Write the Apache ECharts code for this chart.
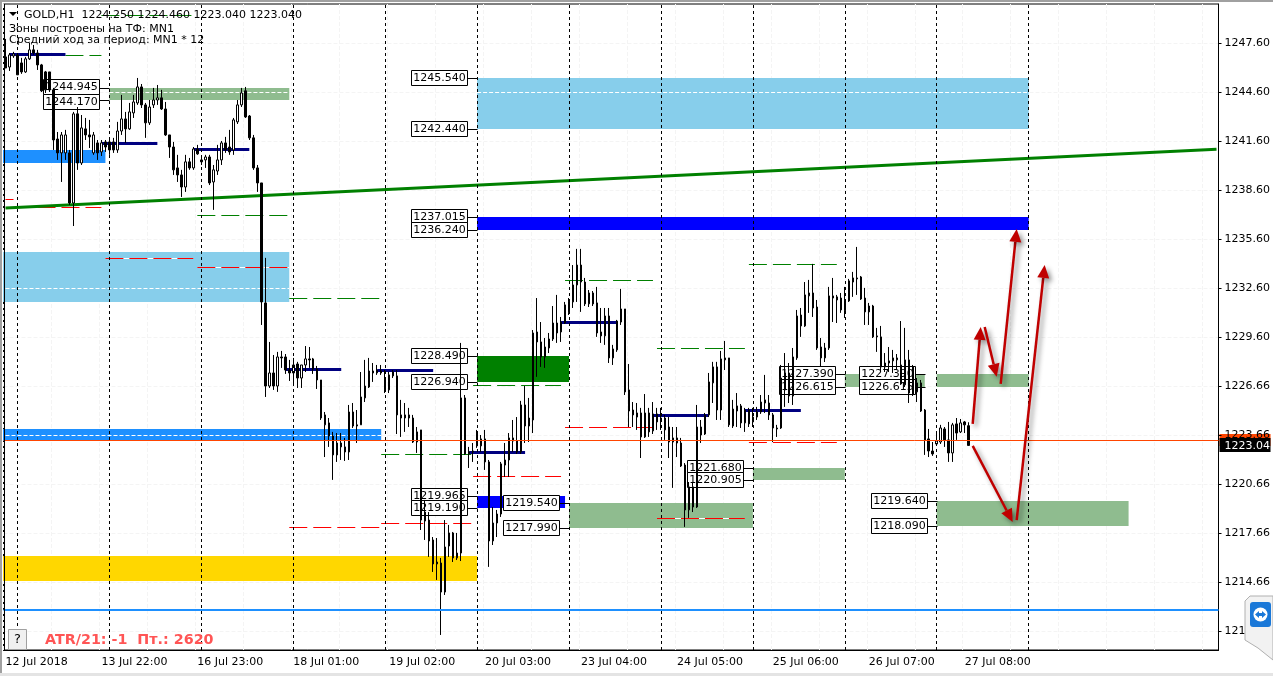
<!DOCTYPE html>
<html>
<head>
<meta charset="utf-8">
<title>GOLD,H1</title>
<style>
  html, body { margin: 0; padding: 0; background: #fff; }
  #chart { width: 1273px; height: 676px; }
</style>
</head>
<body>
<div id="chart"></div>
<script src="https://cdn.jsdelivr.net/npm/echarts@6/dist/echarts.min.js"></script>
<script>
// hourly bars, [open, close, low, high]
const ohlc = [
  [1246.84,1246.16,1246.16,1247.94],[1246.22,1246.96,1245.98,1247.08],[1246.90,1247.02,1246.78,1247.15],[1246.96,1245.74,1245.74,1247.02],
  [1246.47,1245.92,1245.80,1246.78],[1245.92,1246.72,1245.86,1246.84],[1246.72,1247.27,1246.65,1247.70],[1247.27,1247.08,1246.96,1247.57],
  [1247.08,1246.35,1246.04,1247.27],[1246.35,1244.76,1244.69,1246.41],[1245.92,1244.82,1244.63,1245.98],[1245.92,1244.82,1244.69,1245.92],
  [1244.82,1241.75,1241.14,1244.94],[1241.81,1240.96,1240.53,1242.24],[1240.96,1242.06,1239.18,1242.24],[1240.96,1242.06,1240.53,1242.37],
  [1240.96,1237.89,1237.77,1241.14],[1237.89,1243.35,1236.48,1243.47],[1243.35,1240.34,1239.92,1243.77],[1240.34,1242.49,1240.22,1243.28],
  [1242.43,1242.06,1241.75,1243.10],[1242.06,1241.94,1241.26,1242.98],[1240.96,1242.06,1240.84,1242.24],[1241.57,1240.96,1240.53,1241.75],
  [1241.02,1241.57,1240.77,1241.75],[1241.63,1241.32,1241.02,1241.75],[1241.63,1241.14,1240.84,1241.88],[1241.63,1241.14,1240.96,1241.88],
  [1241.14,1242.30,1240.96,1242.86],[1242.30,1243.04,1242.06,1244.51],[1243.04,1242.43,1241.57,1243.47],[1242.43,1243.47,1242.37,1244.02],
  [1243.41,1244.08,1243.10,1244.51],[1244.02,1245.00,1243.90,1245.55],[1245.00,1243.90,1243.71,1245.18],[1243.90,1242.80,1241.88,1244.02],
  [1242.80,1243.77,1242.67,1244.20],[1243.90,1244.20,1243.71,1244.94],[1244.20,1244.33,1243.90,1245.12],[1244.33,1243.65,1243.59,1244.82],
  [1243.65,1242.06,1242.00,1244.08],[1242.06,1241.32,1240.65,1242.06],[1241.32,1239.92,1239.61,1241.63],[1240.04,1239.61,1239.18,1240.84],
  [1239.61,1238.87,1238.26,1239.92],[1238.87,1240.41,1238.57,1240.84],[1240.41,1240.04,1239.92,1240.65],[1240.04,1241.20,1239.92,1241.32],
  [1241.20,1240.90,1240.84,1241.45],[1240.53,1240.41,1240.22,1240.65],[1240.53,1240.71,1240.04,1240.84],[1240.71,1239.12,1238.99,1240.84],
  [1239.18,1239.92,1237.47,1240.22],[1239.85,1240.53,1239.61,1241.45],[1240.53,1241.57,1240.22,1241.69],[1241.57,1241.14,1240.96,1241.94],
  [1241.32,1241.02,1240.84,1242.37],[1241.14,1242.98,1240.84,1243.10],[1242.86,1243.90,1242.73,1244.20],[1243.90,1244.63,1243.77,1244.94],
  [1244.76,1243.16,1243.10,1245.00],[1243.22,1241.88,1241.75,1243.28],[1241.88,1240.04,1239.92,1242.06],[1240.04,1239.12,1238.57,1240.22],
  [1239.12,1231.83,1230.42,1239.12],[1231.77,1226.68,1226.01,1234.53],[1226.68,1227.48,1226.56,1229.38],[1227.48,1226.68,1226.44,1228.58],
  [1226.68,1228.46,1226.32,1228.77],[1228.46,1228.40,1227.79,1228.83],[1228.46,1227.66,1227.42,1228.64],[1227.66,1227.48,1226.99,1228.28],
  [1227.48,1227.97,1226.75,1228.40],[1228.03,1227.17,1226.56,1228.16],[1227.17,1227.97,1226.56,1227.97],[1227.97,1228.34,1227.54,1229.13],
  [1228.34,1228.28,1227.79,1229.07],[1228.34,1227.72,1227.42,1228.40],[1227.72,1227.05,1226.50,1227.91],[1227.05,1224.72,1224.60,1227.05],
  [1224.30,1224.91,1222.33,1225.09],[1224.42,1223.62,1222.95,1224.72],[1223.62,1222.46,1220.93,1223.87],[1223.19,1222.46,1222.03,1223.80],
  [1223.19,1222.95,1222.15,1223.80],[1222.95,1222.64,1222.09,1223.50],[1222.64,1225.09,1222.15,1225.52],[1225.09,1224.23,1224.11,1225.64],
  [1224.30,1224.23,1223.19,1225.21],[1224.30,1226.01,1224.30,1227.54],[1225.95,1226.68,1225.70,1228.28],[1226.62,1227.60,1226.56,1228.40],
  [1227.60,1227.48,1226.93,1228.09],[1227.48,1227.66,1227.36,1227.97],[1227.60,1227.48,1227.36,1227.97],[1227.11,1226.44,1226.25,1227.66],
  [1226.44,1227.36,1226.25,1227.54],[1227.54,1227.30,1227.17,1227.66],[1227.30,1224.91,1223.74,1227.66],[1224.91,1224.72,1223.56,1225.83],
  [1224.72,1224.91,1223.87,1225.64],[1224.91,1224.72,1224.17,1225.34],[1224.72,1223.25,1223.19,1224.91],[1223.25,1223.87,1222.58,1224.17],
  [1223.99,1218.47,1217.86,1223.99],[1218.96,1218.41,1217.25,1219.70],[1218.47,1217.19,1216.21,1218.96],[1217.25,1215.78,1215.29,1217.43],
  [1215.78,1215.90,1214.80,1217.37],[1215.84,1214.06,1211.43,1216.15],[1214.06,1216.82,1213.88,1218.47],[1216.88,1217.68,1216.21,1218.17],
  [1217.68,1216.15,1215.90,1217.74],[1216.15,1216.45,1216.02,1217.68],[1216.45,1225.95,1215.96,1229.32],[1225.95,1222.52,1222.46,1226.13],
  [1222.52,1222.64,1221.66,1222.95],[1222.70,1222.64,1222.03,1223.19],[1223.80,1223.01,1222.89,1223.99],[1223.01,1223.44,1222.64,1223.68],
  [1223.44,1222.03,1221.54,1223.99],[1222.03,1217.19,1215.60,1222.15],[1217.19,1218.29,1216.94,1219.27],[1218.29,1218.84,1217.43,1219.09],
  [1218.84,1221.91,1218.66,1222.03],[1221.84,1222.15,1221.11,1223.19],[1222.15,1223.50,1221.11,1223.80],[1223.50,1223.31,1222.64,1224.60],
  [1223.31,1222.64,1222.52,1224.78],[1222.64,1225.52,1222.52,1225.77],[1225.52,1224.23,1223.19,1226.68],[1224.23,1224.72,1223.25,1225.95],
  [1224.60,1229.93,1223.80,1230.11],[1229.99,1229.38,1227.24,1232.07],[1229.38,1228.46,1227.85,1230.60],[1228.46,1229.07,1227.79,1229.62],
  [1229.01,1229.56,1228.70,1229.93],[1229.56,1230.54,1229.44,1231.58],[1230.54,1229.93,1229.32,1232.26],[1229.99,1230.60,1229.38,1230.91],
  [1230.54,1231.65,1230.48,1231.83],[1231.16,1231.83,1231.03,1232.07],[1231.83,1232.87,1231.46,1234.09],[1232.87,1234.09,1231.83,1235.08],
  [1234.09,1233.05,1231.22,1235.08],[1233.05,1231.71,1231.58,1233.30],[1231.71,1232.38,1231.52,1232.56],[1232.38,1231.71,1231.58,1232.50],
  [1231.77,1229.93,1229.69,1232.75],[1229.99,1229.75,1229.32,1231.46],[1229.75,1230.97,1229.20,1231.46],[1230.97,1228.40,1228.09,1231.46],
  [1228.40,1228.95,1227.97,1229.20],[1228.89,1230.66,1228.77,1230.73],[1230.60,1231.40,1230.42,1232.63],[1231.40,1226.32,1226.13,1231.40],
  [1226.44,1225.15,1224.17,1228.03],[1225.21,1224.91,1224.17,1225.70],[1225.03,1224.78,1223.99,1225.64],[1225.03,1223.56,1222.27,1225.34],
  [1223.56,1225.03,1223.50,1226.19],[1225.03,1223.87,1223.56,1225.34],[1223.93,1224.97,1223.74,1225.70],[1224.97,1224.48,1223.99,1225.34],
  [1224.60,1224.72,1223.99,1225.34],[1223.99,1224.72,1223.38,1224.91],[1224.17,1223.25,1222.27,1224.78],[1223.25,1223.50,1220.44,1224.17],
  [1223.50,1223.19,1222.33,1224.17],[1223.19,1221.78,1221.72,1223.50],[1221.84,1219.09,1218.05,1221.96],[1219.09,1220.50,1218.60,1220.80],
  [1220.50,1219.27,1218.96,1220.74],[1219.27,1224.17,1219.21,1225.52],[1224.17,1223.68,1223.19,1224.60],[1223.74,1224.91,1223.68,1225.03],
  [1224.91,1226.93,1224.78,1227.48],[1226.87,1227.85,1225.64,1228.16],[1227.85,1225.21,1224.60,1228.16],[1225.21,1228.34,1224.60,1228.83],
  [1228.40,1228.28,1227.66,1229.44],[1228.40,1224.30,1224.17,1228.40],[1224.23,1225.27,1224.11,1225.83],[1225.15,1225.46,1224.17,1226.25],
  [1225.46,1224.42,1224.11,1225.58],[1224.42,1225.21,1223.87,1225.34],[1225.21,1224.36,1224.17,1225.34],[1224.48,1224.78,1224.17,1225.34],
  [1224.78,1225.09,1224.60,1225.40],[1225.09,1225.70,1224.97,1226.13],[1225.83,1225.64,1225.03,1227.36],[1225.64,1224.91,1224.60,1226.13],
  [1224.91,1224.11,1223.25,1225.03],[1224.11,1224.05,1223.56,1224.30],[1224.11,1227.17,1224.05,1227.97],[1226.44,1227.48,1225.40,1228.70],
  [1227.48,1226.07,1225.64,1228.09],[1226.07,1228.46,1225.52,1229.01],[1228.40,1230.97,1228.28,1231.34],[1231.03,1230.36,1229.69,1231.46],
  [1230.36,1232.26,1230.30,1233.05],[1232.20,1232.38,1231.16,1233.18],[1232.38,1231.46,1230.91,1234.16],[1231.52,1229.01,1228.89,1231.95],
  [1229.07,1228.40,1227.85,1229.62],[1228.40,1229.01,1228.15,1229.32],[1229.01,1232.20,1228.89,1232.75],[1232.20,1232.07,1230.60,1233.30],
  [1232.14,1231.95,1230.54,1232.26],[1232.07,1231.34,1231.16,1232.38],[1231.28,1231.89,1230.85,1232.75],[1231.89,1233.12,1231.83,1233.24],
  [1233.05,1233.30,1232.14,1233.67],[1233.30,1233.24,1232.26,1235.20],[1233.36,1232.01,1231.95,1233.42],[1232.07,1231.22,1230.42,1232.69],
  [1231.58,1231.22,1230.42,1231.77],[1231.58,1229.69,1229.62,1231.65],[1229.75,1229.69,1228.77,1230.24],[1229.69,1227.85,1227.54,1230.36],
  [1227.85,1228.09,1227.54,1228.70],[1228.09,1228.22,1227.54,1229.07],[1228.22,1228.40,1227.48,1228.89],[1228.28,1228.40,1227.66,1228.64],
  [1227.97,1226.81,1226.75,1230.66],[1226.75,1228.28,1226.62,1230.24],[1228.28,1226.25,1225.64,1228.89],[1227.85,1226.19,1226.07,1227.97],
  [1226.32,1226.87,1225.70,1227.17],[1226.87,1225.15,1225.09,1227.05],[1225.21,1223.38,1222.46,1225.27],[1223.44,1222.70,1222.33,1224.05],
  [1222.70,1222.52,1222.40,1223.25],[1223.13,1223.31,1223.01,1223.80],[1223.25,1224.11,1223.13,1224.30],[1224.05,1223.38,1222.95,1224.17],
  [1223.38,1222.58,1222.03,1224.48],[1222.58,1224.30,1222.03,1224.42],[1224.36,1223.80,1223.38,1224.72],[1223.87,1224.42,1223.80,1224.66],
  [1224.48,1224.30,1223.80,1224.54],[1224.25,1223.04,1223.04,1224.46]
]

// bar slots on the time axis, the right part of the chart is empty
const barSlots = Array.from({ length: 304 }, (_, i) => String(i))
const timeLabels = ['12 Jul 2018', '13 Jul 22:00', '16 Jul 23:00', '18 Jul 01:00', '19 Jul 02:00', '20 Jul 03:00',
  '23 Jul 04:00', '24 Jul 05:00', '25 Jul 06:00', '26 Jul 07:00', '27 Jul 08:00']
const daySeparators = [3, 26, 49, 72, 95, 118, 141, 164, 187, 210, 233, 256]

const priceMin = 1210.51
const priceMax = 1250.08
const tickValues = [1247.66, 1244.66, 1241.66, 1238.66, 1235.66, 1232.66, 1229.66, 1226.66, 1223.66, 1220.66, 1217.66, 1214.66, 1211.66]
const tickLabels = ['1247.60', '1244.60', '1241.60', '1238.60', '1235.60', '1232.60', '1229.60', '1226.66', '1223.66', '1220.66', '1217.66', '1214.66', '1211.66']

// zones: first bar, last bar, upper and lower price, kind
const zoneFrom = [118, 26, -1, -1, 118, 118, -1, 118, 141, 187, 210, 233, 233, -1]
const zoneTo = [256, 71, 25, 71, 256, 141, 94, 140, 187, 210, 230, 256, 281, 118]
const zoneHigh = [1245.54, 1244.945, 1241.14, 1234.89, 1237.015, 1228.49, 1224.05, 1219.965, 1219.54, 1221.68, 1227.39, 1227.39, 1219.64, 1216.27]
const zoneLow = [1242.44, 1244.17, 1240.36, 1231.83, 1236.24, 1226.94, 1223.31, 1219.19, 1217.99, 1220.905, 1226.615, 1226.615, 1218.09, 1214.76]
const zoneKind = ['sky', 'sage', 'dodger', 'sky', 'blue', 'green', 'dodger', 'blue', 'sage', 'sage', 'sage', 'sage', 'sage', 'gold']
const zoneColors = { sky: '#87CEEB', sage: '#8FBC8F', dodger: '#1E90FF', blue: '#0000FF', green: '#008000', gold: '#FFD700' }

// price boxes, the bar they point at and their level
const levelBar = [26, 26, 118, 118, 118, 118, 118, 118, 118, 118, 141, 141, 187, 187, 210, 210, 230, 230, 233, 233]
const levelPrice = [1244.945, 1244.17, 1245.54, 1242.44, 1237.015, 1236.24, 1228.49, 1226.94, 1219.965, 1219.19,
  1219.54, 1217.99, 1221.68, 1220.905, 1227.39, 1226.615, 1227.39, 1226.615, 1219.64, 1218.09]

// short level lines: first bar, last bar, price
const navyLevels = [[1, 15, 1247.02], [24, 38, 1241.57], [47, 61, 1241.20], [70, 84, 1227.72], [93, 107, 1227.66],
  [116, 130, 1222.64], [139, 153, 1230.60], [162, 176, 1224.91], [185, 199, 1225.21]]
const greenLevels = [[15, 24, 1246.96], [24, 47, 1249.41], [48, 71, 1237.13], [71, 94, 1232.07], [94, 117, 1222.52],
  [117, 139, 1226.75], [140, 162, 1233.18], [163, 185, 1229.01], [186, 208, 1234.16]]
const redLevels = [[0, 2, 1238.14], [2, 24, 1237.65], [25, 47, 1234.53], [48, 71, 1233.97], [71, 94, 1218.05],
  [94, 117, 1218.29], [117, 139, 1221.17], [140, 162, 1224.17], [163, 185, 1218.60], [186, 208, 1223.25]]
const midLevels = [[118, 256, 1244.69], [26, 71, 1244.69], [0, 71, 1232.69], [0, 94, 1223.68]]

const trendLine = [[0, 1237.59], [303, 1241.19]]
const supportPrice = 1212.96
const redLinePrice = 1223.36
const lastPrice = 1223.04

// hand drawn arrows: from bar, from price, to bar, to price
const arrowPaths = [
  [241.95, 1224.36, 244.4, 1230.30],
  [245.4, 1230.30, 247.6, 1227.24],
  [248.5, 1226.81, 252.9, 1236.30],
  [241.5, 1223.01, 251.9, 1218.35],
  [252.75, 1218.47, 259.6, 1234.09]
]

const uiFont = '"DejaVu Sans", sans-serif'

function inZone(bar, price) {
  return zoneFrom.some(function(from, i) {
    return from <= bar && zoneTo[i] >= bar && zoneLow[i] <= price && zoneHigh[i] >= price
  })
}

function levelLine(levels, color, width, dash, whiteGaps) {
  return {
    type: 'custom',
    z: 2,
    silent: true,
    data: levels.map(function(_, i) { return [i] }),
    renderItem: function(params, api) {
      const l = levels[params.dataIndex]
      const a = api.coord([l[0], l[2]])
      const b = api.coord([l[1], l[2]])
      const y = Math.round(a[1]) + (width % 2 ? 0.5 : 0)
      const shape = { x1: a[0], y1: y, x2: b[0], y2: y }
      const kids = []
      // the gaps of a dashed line show white over a zone
      if (whiteGaps && inZone(l[0], l[2])) {
        kids.push({ type: 'line', shape: shape, style: { stroke: '#fff', lineWidth: width } })
      }
      kids.push({ type: 'line', shape: shape, style: { stroke: color, lineWidth: width, lineDash: dash } })
      return { type: 'group', children: kids }
    }
  }
}

function renderZone(params, api) {
  const i = params.dataIndex
  const a = api.coord([zoneFrom[i], zoneHigh[i]])
  const b = api.coord([zoneTo[i], zoneLow[i]])
  return {
    type: 'rect',
    shape: { x: a[0], y: Math.round(a[1]), width: b[0] - a[0], height: Math.round(b[1]) - Math.round(a[1]) },
    style: { fill: zoneColors[zoneKind[i]] }
  }
}

function renderLevel(params, api) {
  const i = params.dataIndex
  const p = api.coord([levelBar[i], levelPrice[i]])
  const x = Math.round(p[0]) + 0.5
  const y = Math.round(p[1]) + 0.5
  // the first two boxes sit a little apart from their levels
  const shift = i === 0 ? -1 : i === 1 ? 2 : 0
  return {
    type: 'group',
    children: [
      { type: 'line', shape: { x1: x - 10, y1: y, x2: x, y2: y }, style: { stroke: '#000', lineWidth: 1 } },
      { type: 'rect', shape: { x: x - 66, y: y - 8 + shift, width: 56, height: 15 }, style: { fill: '#fff', stroke: '#000', lineWidth: 1 } },
      { type: 'text', style: { text: levelPrice[i].toFixed(3), x: x - 38, y: y + shift, align: 'center', verticalAlign: 'middle', font: '11px ' + uiFont, fill: '#000' } }
    ]
  }
}

function renderArrow(params, api) {
  const r = arrowPaths[params.dataIndex]
  const a = api.coord([r[0], r[1]])
  const b = api.coord([r[2], r[3]])
  const ang = Math.atan2(b[1] - a[1], b[0] - a[0])
  const back = [b[0] - Math.cos(ang) * 13, b[1] - Math.sin(ang) * 13]
  const nx = -Math.sin(ang) * 6
  const ny = Math.cos(ang) * 6
  const shadow = { shadowBlur: 5, shadowColor: 'rgba(0,0,0,0.45)', shadowOffsetX: 3, shadowOffsetY: 3 }
  return {
    type: 'group',
    children: [
      { type: 'line', shape: { x1: a[0], y1: a[1], x2: back[0], y2: back[1] }, style: Object.assign({ stroke: '#C00000', lineWidth: 2.5 }, shadow) },
      { type: 'polygon', shape: { points: [b, [back[0] + nx, back[1] + ny], [back[0] - nx, back[1] - ny]] }, style: Object.assign({ fill: '#C00000' }, shadow) }
    ]
  }
}

function renderPriceTag(fill, textColor, text, centerPrice, height) {
  return function(params, api) {
    const y = Math.round(api.coord([0, centerPrice])[1])
    const x = params.coordSys.x + params.coordSys.width + 1
    const kids = [{ type: 'rect', shape: { x: x, y: y - height / 2, width: 51, height: height }, style: { fill: fill } }]
    if (text) {
      kids.push({ type: 'text', style: { text: text, x: x + 5, y: y + 1, align: 'left', verticalAlign: 'middle', font: '11px ' + uiFont, fill: textColor } })
    }
    return { type: 'group', children: kids }
  }
}

const chart = echarts.init(document.getElementById('chart'), null, { renderer: 'canvas' })

chart.setOption({
  animation: false,
  backgroundColor: '#fff',
  grid: { left: 3.5, top: 4, width: 1216, height: 646, show: true, borderColor: '#000', borderWidth: 1, backgroundColor: '#fff' },
  xAxis: {
    type: 'category',
    data: barSlots,
    axisLine: { lineStyle: { color: '#000' } },
    axisTick: { alignWithLabel: true, length: 3, lineStyle: { color: '#000' }, interval: function(i) { return i % 24 === 0 && i / 24 < timeLabels.length } },
    axisLabel: {
      color: '#000',
      fontFamily: uiFont,
      fontSize: 11,
      align: 'left',
      margin: 7,
      interval: function(i) { return i % 24 === 0 && i / 24 < timeLabels.length },
      formatter: function(v) { return timeLabels[Number(v) / 24] }
    },
    splitLine: { show: true, interval: function(i) { return i % 12 === 0 }, lineStyle: { color: '#f4f4f4', type: 'dashed' } }
  },
  yAxis: [{
    // faint grid under everything
    type: 'value',
    position: 'right',
    min: priceMin,
    max: priceMax,
    axisLine: { show: false },
    axisTick: { show: false, customValues: tickValues },
    axisLabel: { show: false, customValues: tickValues },
    splitLine: { show: true, lineStyle: { color: '#f4f4f4', type: 'dashed' } }
  }, {
    // visible scale, sits on top of the orange tag
    type: 'value',
    position: 'right',
    z: 4,
    min: priceMin,
    max: priceMax,
    axisLine: { show: true, lineStyle: { color: '#000' } },
    axisTick: { show: true, length: 3, customValues: tickValues, lineStyle: { color: '#000' } },
    axisLabel: {
      color: '#000',
      fontFamily: uiFont,
      fontSize: 11,
      margin: 6,
      customValues: tickValues,
      formatter: function(v) { return tickLabels[tickValues.indexOf(v)] }
    },
    splitLine: { show: false }
  }],
  series: [{
    type: 'custom',
    z: 1,
    clip: true,
    silent: true,
    renderItem: renderZone,
    data: zoneFrom.map(function(_, i) { return [i] })
  }, {
    type: 'line',
    z: 2,
    data: [],
    silent: true,
    markLine: {
      symbol: 'none',
      silent: true,
      label: { show: false },
      data: daySeparators.map(function(b) {
        return { xAxis: b, lineStyle: { color: '#000', width: 1, type: [3, 3] } }
      }).concat([
        { yAxis: supportPrice, lineStyle: { color: '#1E90FF', width: 2, type: 'solid' } },
        { yAxis: redLinePrice, lineStyle: { color: '#FF4500', width: 1, type: 'solid' } }
      ])
    }
  },
  levelLine(midLevels, '#fff', 1, [4, 2], false),
  levelLine(greenLevels, '#008000', 1, [18, 6], false),
  levelLine(redLevels, '#FF0000', 1, [18, 6], true),
  levelLine(navyLevels, '#000080', 3, null, false),
  {
    type: 'line',
    z: 2,
    data: trendLine,
    symbol: 'none',
    silent: true,
    lineStyle: { color: '#008000', width: 3 }
  }, {
    type: 'custom',
    z: 2,
    silent: true,
    renderItem: renderLevel,
    data: levelBar.map(function(_, i) { return [i] })
  }, {
    type: 'candlestick',
    z: 3,
    barWidth: 2,
    silent: true,
    data: ohlc,
    itemStyle: { color: '#fff', color0: '#000', borderColor: '#000', borderColor0: '#000', borderWidth: 1 }
  }, {
    type: 'custom',
    z: 6,
    silent: true,
    renderItem: renderArrow,
    data: arrowPaths.map(function(_, i) { return [i] })
  }, {
    type: 'custom',
    z: 3,
    silent: true,
    renderItem: renderPriceTag('#FF4500', '#000', '', redLinePrice, 12),
    data: [[0]]
  }, {
    type: 'custom',
    z: 10,
    silent: true,
    renderItem: renderPriceTag('#000', '#fff', lastPrice.toFixed(2), lastPrice, 14),
    data: [[0]]
  }],
  graphic: { elements: [
    { type: 'rect', z: 20, shape: { x: 0, y: 0, width: 2, height: 676 }, style: { fill: '#a0a0a0' } },
    { type: 'rect', z: 20, shape: { x: 0, y: 0, width: 1273, height: 2 }, style: { fill: '#a0a0a0' } },
    { type: 'rect', z: 20, shape: { x: 0, y: 673, width: 1273, height: 3 }, style: { fill: '#e4e4e4' } },
    { type: 'rect', z: 20, shape: { x: 4, y: 4, width: 1, height: 646 }, style: { fill: '#000' } },
    { type: 'polygon', z: 20, shape: { points: [[9, 12], [17, 12], [13, 16]] }, style: { fill: '#000' } },
    { type: 'text', z: 20, style: { text: 'GOLD,H1  1224.250 1224.460 1223.040 1223.040', x: 24, y: 15, verticalAlign: 'middle', font: '11px ' + uiFont, fill: '#000' } },
    { type: 'text', z: 20, style: { text: 'Зоны построены на ТФ: MN1', x: 9, y: 29, verticalAlign: 'middle', font: '11px ' + uiFont, fill: '#000' } },
    { type: 'text', z: 20, style: { text: 'Средний ход за период: MN1 * 12', x: 9, y: 40, verticalAlign: 'middle', font: '11px ' + uiFont, fill: '#000' } },
    { type: 'rect', z: 20, shape: { x: 8.5, y: 629.5, width: 18, height: 20 }, style: { fill: '#f0f0f0', stroke: '#a0a0a0', lineWidth: 1 } },
    { type: 'text', z: 20, style: { text: '?', x: 17.5, y: 640, align: 'center', verticalAlign: 'middle', font: '13px ' + uiFont, fill: '#000' } },
    { type: 'text', z: 20, style: { text: 'ATR/21: -1  Пт.: 2620', x: 45, y: 640, verticalAlign: 'middle', font: 'bold 14.3px "DejaVu Sans", sans-serif', fill: '#FF5555' } },
    // remote desktop tab in the corner of the screenshot
    { type: 'polygon', z: 30, shape: { points: [[1245, 601], [1250, 596], [1273, 596], [1273, 660], [1258, 648], [1245, 640]] }, style: { fill: '#f2f2f2', stroke: '#b0b0b0', lineWidth: 1 } },
    { type: 'rect', z: 31, shape: { x: 1250, y: 602, width: 21, height: 25, r: 3 }, style: { fill: '#1a78d8' } },
    { type: 'circle', z: 32, shape: { cx: 1260.5, cy: 614.5, r: 7 }, style: { fill: '#fff' } },
    { type: 'polygon', z: 33, shape: { points: [[1255, 614.5], [1259, 611], [1259, 613], [1262, 613], [1262, 611], [1266, 614.5], [1262, 618], [1262, 616], [1259, 616], [1259, 618]] }, style: { fill: '#1a78d8' } }
  ] }
})
</script>
</body>
</html>
